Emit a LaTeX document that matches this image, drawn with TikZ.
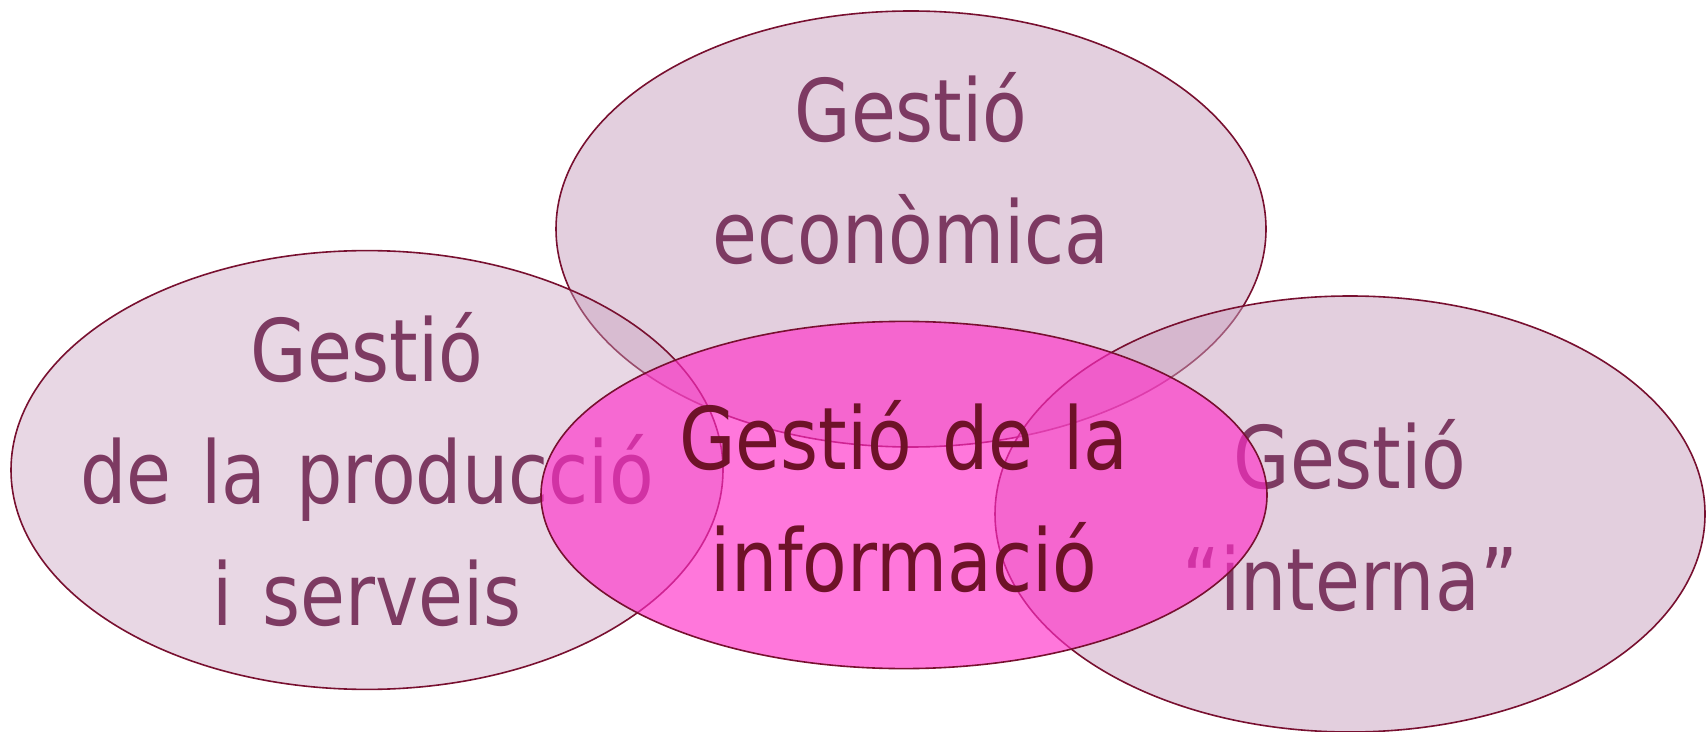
\documentclass[tikz,border=0pt]{standalone}
\usepackage{fontspec}
\setmainfont{DejaVu Sans}[FakeStretch=0.845]
\usetikzlibrary{shapes.geometric}
\definecolor{rim}{RGB}{120,16,48}
\definecolor{mauve}{RGB}{200,160,190}
\definecolor{hotpink}{RGB}{255,46,200}
\definecolor{plumtext}{RGB}{125,58,98}
\definecolor{winetext}{RGB}{110,18,40}
\newcommand\wordgap{\spaceskip=15pt\relax}
\begin{document}
\begin{tikzpicture}[x=0.5pt, y=-0.5pt,
    area/.style={ellipse, draw=rim, line width=0.8pt, inner sep=0pt, fill=mauve, fill opacity=0.5},
    words/.style={align=center, text=plumtext, inner sep=0pt, font=\fontsize{43.2}{61}\selectfont\wordgap}]
  \useasboundingbox (0,0) rectangle (1707,732);
  \node[area, minimum width=355pt, minimum height=218pt] (Econ) at (911,229) {};
  \node[words] (EconTxt) at ([yshift=30pt]Econ.center) {Gestió\\econòmica};
  \node[area, fill opacity=0.42, minimum width=356pt, minimum height=219.4pt] (Prod) at (367,470) {};
  \node[words] (ProdTxt) at (Prod.center) {Gestió\\de la producció\\i serveis};
  \node[area, minimum width=355pt, minimum height=218pt] (Intern) at (1350,514) {};
  \node[words] (InternTxt) at ([yshift=-1pt]Intern.center) {Gestió\\“interna”};
  \node[area, fill=hotpink, fill opacity=0.65, minimum width=363pt, minimum height=173.6pt] (Info) at (904,495) {};
  \node[words, text=winetext] (InfoTxt) at ([yshift=-1pt]Info.center) {Gestió de la\\informació};
\end{tikzpicture}
\end{document}
